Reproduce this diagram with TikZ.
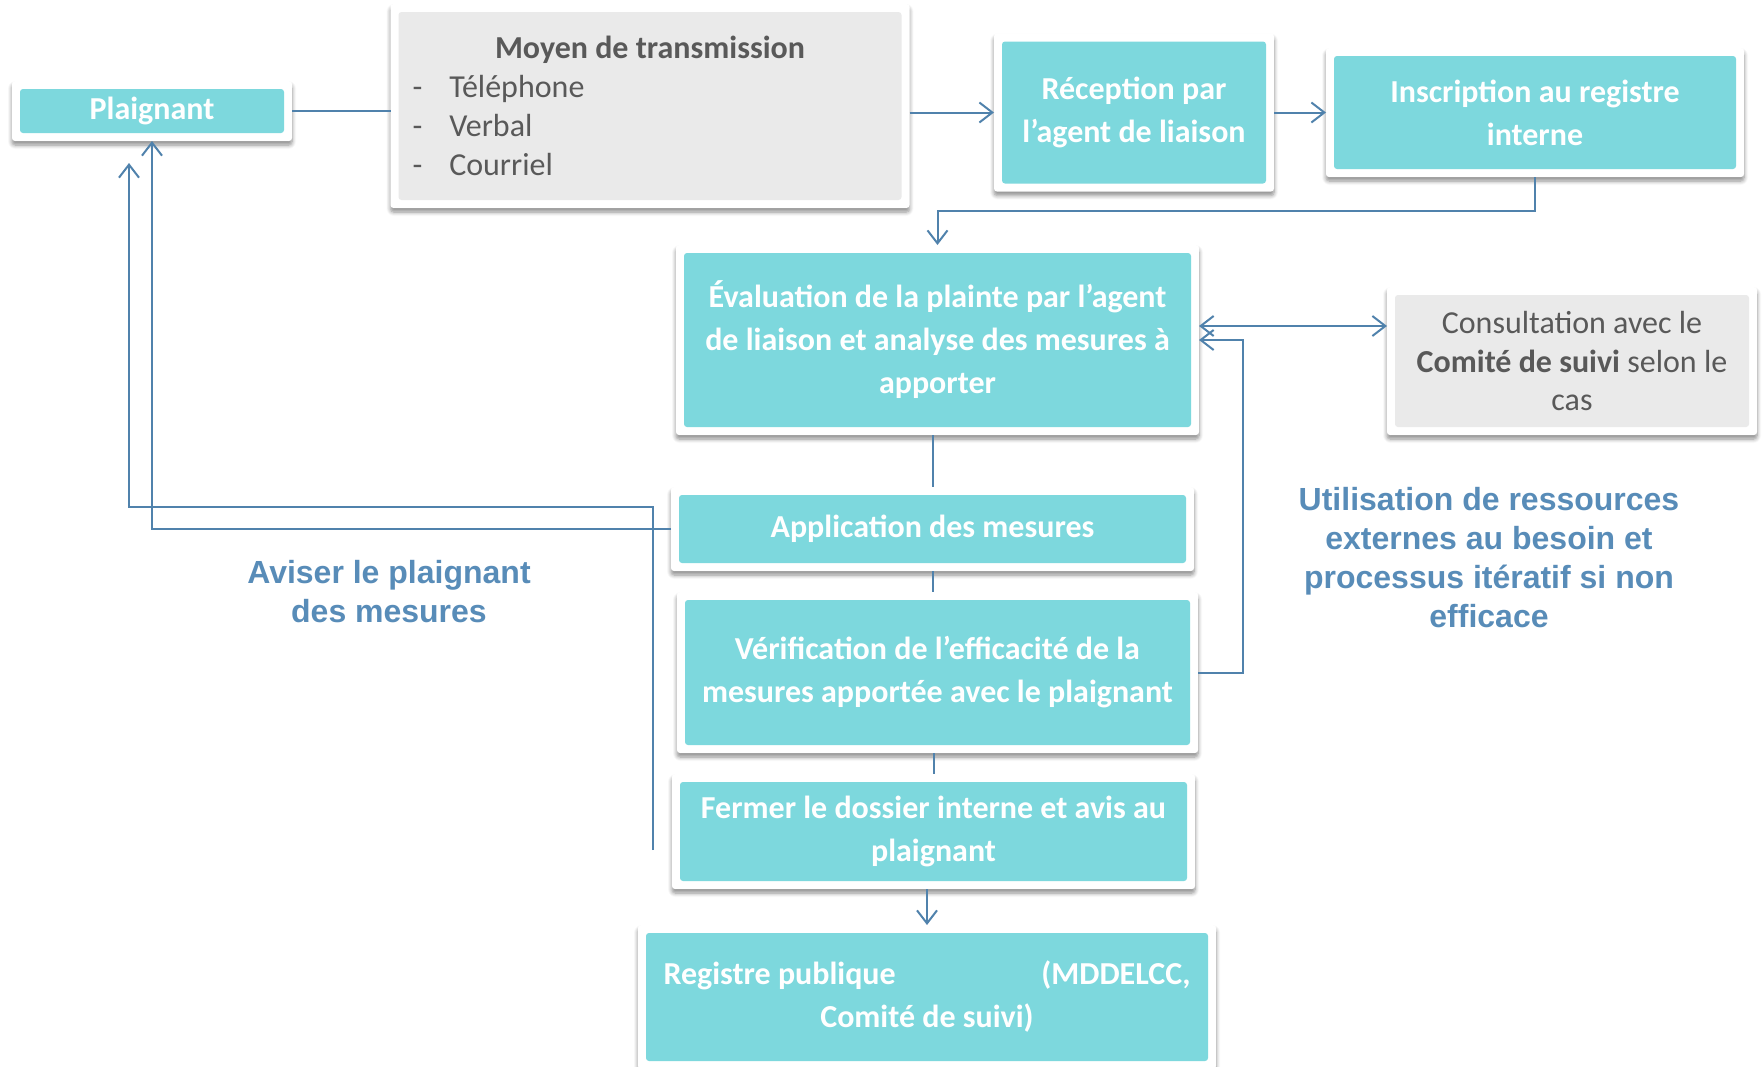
\documentclass[tikz,border=0pt]{standalone}
\usepackage{fontspec}
\setmainfont{Carlito}
\newfontfamily\notefont{Liberation Sans}
\usetikzlibrary{arrows.meta,positioning,shadows.blur}
\definecolor{pteal}{RGB}{125,216,221}
\definecolor{pgrey}{RGB}{234,234,234}
\definecolor{ptext}{RGB}{89,89,89}
\definecolor{pline}{RGB}{80,130,172}
\definecolor{pnote}{RGB}{88,140,184}

\begin{document}
\begin{tikzpicture}[x=1pt, y=-1pt, >={Straight Barb[length=13pt,width=20pt]},
  frame/.style={fill=white, rounded corners=3pt, inner sep=0pt, outer sep=0pt,
    path picture={\fill[#1] ([shift={(8pt,8pt)}]path picture bounding box.south west)
      rectangle ([shift={(-8pt,-8pt)}]path picture bounding box.north east);},
    blur shadow={shadow xshift=0pt, shadow yshift=-4pt, shadow blur radius=4pt,
      shadow blur steps=6, shadow opacity=45}},
  tealbox/.style={frame=pteal, align=center, text=white, font=\fontsize{32}{43}\selectfont\bfseries},
  greybox/.style={frame=pgrey, align=flush center, text=ptext, font=\fontsize{32}{39}\selectfont},
  link/.style={pline, line width=2pt},
  note/.style={text=pnote, align=center, font=\notefont\fontsize{32}{39}\selectfont\bfseries}]
  \useasboundingbox (0,0) rectangle (1762,1066);

  % top row
  \node[tealbox, minimum width=280pt, minimum height=60pt] (plaignant) at (152,111) {Plaignant};
  \node[greybox, minimum width=519pt, minimum height=204pt, text width=475pt, align=flush left] (moyen) at (650,106)
    {\makebox[475pt]{\textbf{Moyen de transmission}}\\
     -\hspace{27pt}Téléphone\\
     -\hspace{27pt}Verbal\\
     -\hspace{27pt}Courriel};
  \node[tealbox, minimum width=280pt, minimum height=158pt] (reception) at (1134,112.5) {Réception par\\l’agent de liaison};
  \node[tealbox, minimum width=418pt, minimum height=129pt] (inscription) at (1535,112.5) {Inscription au registre\\interne};

  % middle column
  \node[tealbox, minimum width=523pt, minimum height=190pt] (evaluation) at (937.5,340)
    {Évaluation de la plainte par l’agent\\de liaison et analyse des mesures à\\apporter};
  \node[greybox, minimum width=370pt, minimum height=148pt, font=\fontsize{32}{38.5}\selectfont] (consultation) at (1572,361)
    {Consultation avec le\\\textbf{Comité de suivi} selon le\\cas};
  \node[tealbox, minimum width=523pt, minimum height=84pt] (application) at (932.5,529) {Application des mesures};
  \node[tealbox, minimum width=521pt, minimum height=161pt] (verification) at (937.5,672.5)
    {Vérification de l’efficacité de la\\mesures apportée avec le plaignant};
  \node[tealbox, minimum width=523pt, minimum height=115pt] (fermer) at (933.5,831.5)
    {Fermer le dossier interne et avis au\\plaignant};
  \node[tealbox, minimum width=578pt, minimum height=144pt, text width=527pt, align=flush center] (registre) at (927,997)
    {Registre publique\hfill(MDDELCC,\\Comité de suivi)};

  % side notes
  \node[note] (aviser) at (389,592) {Aviser le plaignant\\des mesures};
  \node[note] (ressources) at (1489,558) {Utilisation de ressources\\externes au besoin et\\processus itératif si non\\efficace};

  % links
  \draw[link] (plaignant.east) -- (plaignant.east -| moyen.west);
  \draw[link,->] (moyen.east |- reception.west) -- (reception.west);
  \draw[link,->] (reception.east) -- (inscription.west);
  \draw[link,->] (inscription.south) -- ++(0,34) -| (evaluation.north);
  \draw[link,<->] ([yshift=14pt]evaluation.east) -- ([yshift=14pt]evaluation.east -| consultation.west);
  \draw[link,->] (verification.east) -- ++(45,0) |- (evaluation.east);
  \draw[link] (application.north |- evaluation.south) -- (application.north);
  \draw[link] (application.south) -- (application.south |- verification.north);
  \draw[link] (fermer.north |- verification.south) -- (fermer.north);
  \draw[link,->] (fermer.south -| registre.north) -- (registre.north);
  \draw[link,->] (application.west) -| (plaignant.south);
  \coordinate (avisstart) at (653,850);
  \coordinate (avisend) at (129,163);
  \draw[link,->] (avisstart) -- ++(0,-343) -| (avisend);
\end{tikzpicture}
\end{document}
